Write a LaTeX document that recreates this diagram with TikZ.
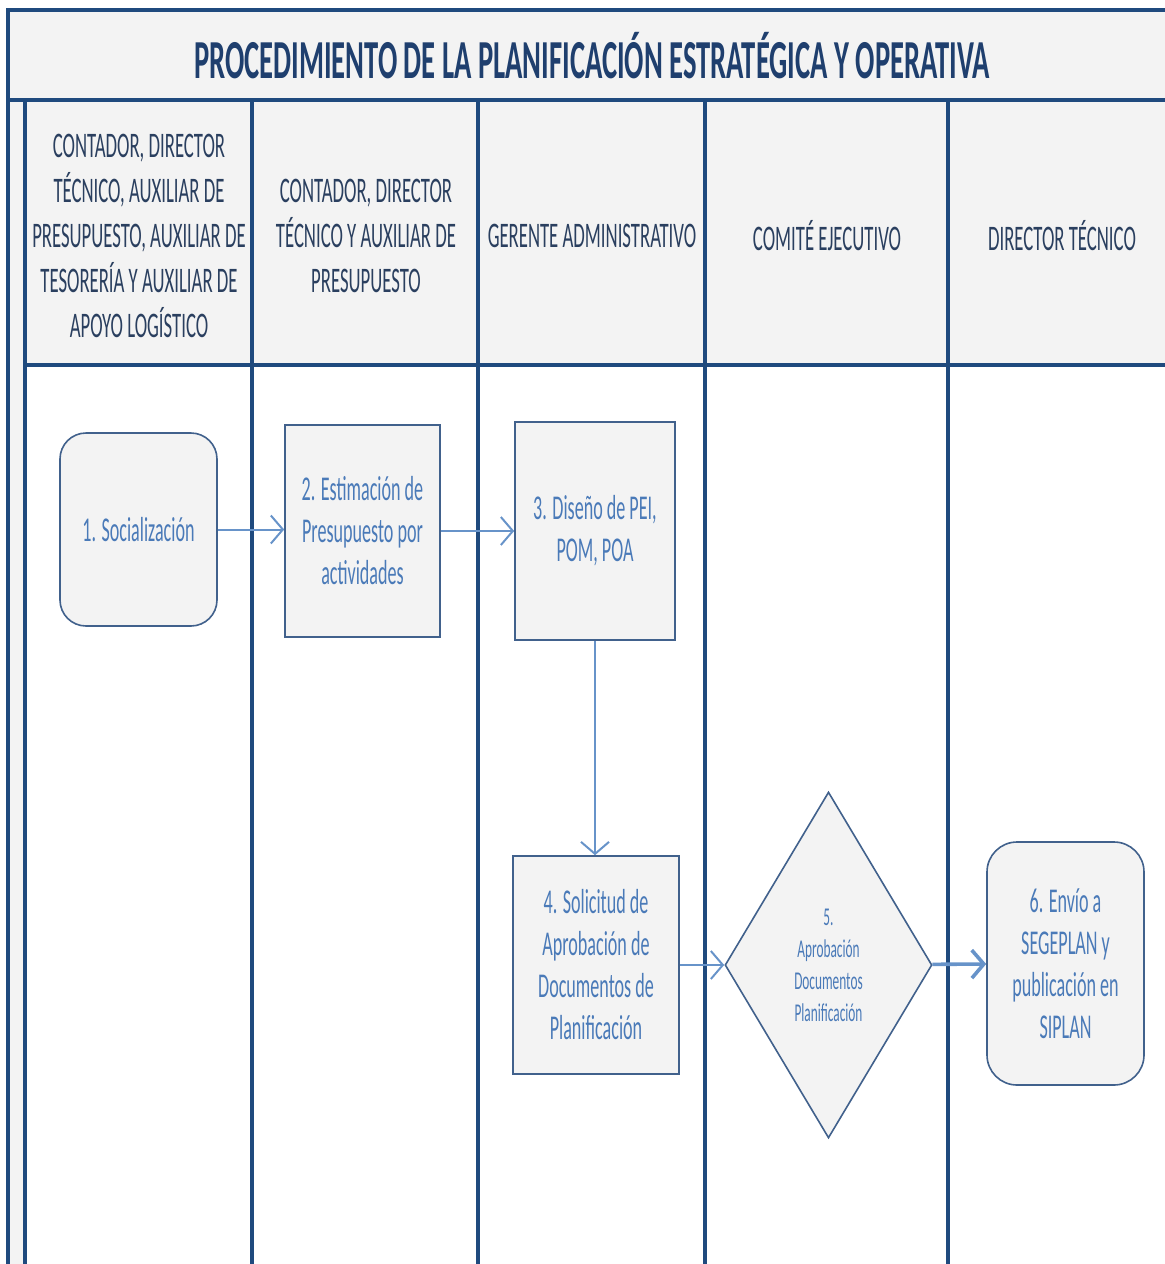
\documentclass[tikz,border=0pt]{standalone}
\usepackage{fontspec}
\setmainfont[FakeStretch=0.52]{Carlito}
\usepackage{tikz}
\usepackage{xcolor}
\usetikzlibrary{arrows.meta,shapes.geometric}
\definecolor{lanenavy}{HTML}{1F4A7E}
\definecolor{titlenavy}{HTML}{1F3F6E}
\definecolor{headnavy}{HTML}{2A3F5F}
\definecolor{boxedge}{HTML}{41618C}
\definecolor{boxtext}{HTML}{4A7AB8}
\definecolor{flowblue}{HTML}{6793C9}
\definecolor{panelgray}{HTML}{F3F3F3}
\tikzset{
    lane-line/.style = {draw=lanenavy, line width=1.6pt},
    lane-title/.style = {text=headnavy, align=center, font=\fontsize{18}{22.5}\selectfont},
    step-box/.style = {draw=boxedge, fill=panelgray, line width=0.8pt, rectangle, align=center, text=boxtext, font=\fontsize{17.4}{21}\selectfont, inner sep=0pt},
    step-rounded/.style = {step-box, rounded corners=13pt},
    step-diamond/.style = {step-box, diamond, aspect=0.6, font=\fontsize{12.8}{16}\selectfont},
    flow-arrow/.style = {draw=flowblue, line width=1pt, -{Straight Barb[length=6pt,width=14pt]}},
}

\begin{document}
\begin{tikzpicture}[x=0.5pt,y=-0.5pt]
\useasboundingbox (0,0) rectangle (1165,1264);
\fill[panelgray] (8,10) rectangle (1165,365);
\fill[panelgray] (8,365) rectangle (25,1264);
\draw[lane-line] (8,1264) -- (8,10) -- (1165,10);
\draw[lane-line] (8,100) -- (1165,100);
\draw[lane-line, line width=2.4pt] (25,365) -- (1165,365);
\foreach \x in {25,252,478,705,948}
    \draw[lane-line] (\x,100) -- (\x,1264);

\node[text=titlenavy, font=\bfseries\fontsize{27.5}{32}\selectfont] (title) at (592,56) {PROCEDIMIENTO DE LA PLANIFICACIÓN ESTRATÉGICA Y OPERATIVA};

\node[lane-title] (lane-staff) at (139,236) {CONTADOR, DIRECTOR\\TÉCNICO, AUXILIAR DE\\PRESUPUESTO, AUXILIAR DE\\TESORERÍA Y AUXILIAR DE\\APOYO LOGÍSTICO};
\node[lane-title] (lane-budget) at (366,236) {CONTADOR, DIRECTOR\\TÉCNICO Y AUXILIAR DE\\PRESUPUESTO};
\node[lane-title] (lane-manager) at (592,236) {GERENTE ADMINISTRATIVO};
\node[lane-title] (lane-committee) at (827,236) {COMITÉ EJECUTIVO};
\node[lane-title] (lane-director) at (1062,236) {DIRECTOR TÉCNICO};

\node[step-rounded, minimum width=78.5pt, minimum height=96.5pt] (social) at (138.5,529.5) {1. Socialización};
\node[step-box, minimum width=77.5pt, minimum height=106pt] (estim) at (362.5,531) {2. Estimación de\\Presupuesto  por\\actividades};
\node[step-box, minimum width=80pt, minimum height=109pt] (design) at (595,531) {3. Diseño de PEI,\\POM, POA};
\node[step-box, minimum width=83pt, minimum height=109pt] (request) at (596,965) {4. Solicitud de\\Aprobación de\\Documentos de\\Planificación};
\node[step-diamond, minimum width=103.5pt, minimum height=173pt] (approve) at (828.5,965) {5.\\Aprobación\\Documentos\\Planificación};
\node[step-rounded, rounded corners=15pt, minimum width=78.5pt, minimum height=121.5pt] (send) at (1065.5,963.5) {6. Envío a\\SEGEPLAN y\\publicación  en\\SIPLAN};

\draw[flow-arrow] (social) -- (social -| estim.west);
\draw[flow-arrow] (estim) -- (design);
\draw[flow-arrow] (design.south) -- (design.south |- request.north);
\draw[flow-arrow] (request) -- (approve);
\draw[flow-arrow, line width=1.8pt] (approve) -- (send);
\end{tikzpicture}
\end{document}
